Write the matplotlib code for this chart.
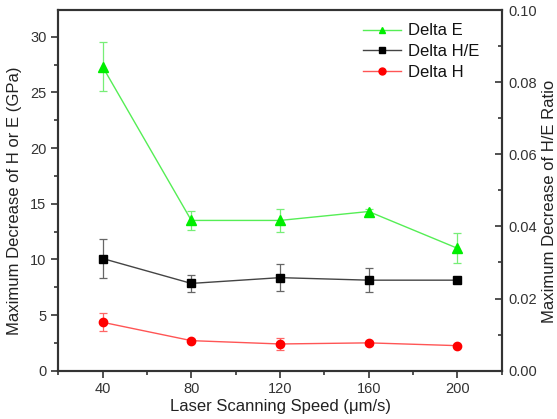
import matplotlib
matplotlib.use("Agg")
import matplotlib.pyplot as plt
from matplotlib.ticker import MultipleLocator

plt.rcParams['font.family'] = ['Liberation Sans', 'DejaVu Sans']

speed = [40, 80, 120, 160, 200]
delta_e = [27.3, 13.5, 13.5, 14.3, 11.0]
delta_e_err = [2.2, 0.85, 1.0, 0.2, 1.35]
delta_he = [0.0311, 0.0242, 0.0258, 0.0251, 0.0251]
delta_he_err = [0.0054, 0.0023, 0.0038, 0.0033, 0.0]
delta_h = [4.35, 2.7, 2.4, 2.5, 2.25]
delta_h_err = [0.8, 0.15, 0.55, 0.15, 0.1]

fig = plt.figure(figsize=(5.57, 4.19), dpi=100)
ax = fig.add_axes([0.1047, 0.1153, 0.796, 0.8607])
ax2 = ax.twinx()

spine_c = '#333333'
lbl_c = '#333333'

le, = ax.plot(speed, delta_e, color='#55ee55', lw=1.0, marker='^', ms=7,
              mfc='#00ee00', mec='#00ee00', label='Delta E', zorder=3)
ax.errorbar(speed, delta_e, yerr=delta_e_err, fmt='none', ecolor='#77ee77',
            elinewidth=0.9, capsize=3, capthick=0.9, zorder=2)
lh, = ax.plot(speed, delta_h, color='#ff5555', lw=1.0, marker='o', ms=6,
              mfc='#ff0000', mec='#ff0000', label='Delta H', zorder=3)
ax.errorbar(speed, delta_h, yerr=delta_h_err, fmt='none', ecolor='#ff6666',
            elinewidth=0.9, capsize=3, capthick=0.9, zorder=2)
lhe, = ax2.plot(speed, delta_he, color='#444444', lw=1.0, marker='s', ms=5.5,
                mfc='#000000', mec='#000000', label='Delta H/E', zorder=3)
ax2.errorbar(speed, delta_he, yerr=delta_he_err, fmt='none', ecolor='#666666',
             elinewidth=0.9, capsize=3, capthick=0.9, zorder=2)

ax.set_xlim(20, 220)
ax.set_ylim(0, 32.4)
ax2.set_ylim(0, 0.1)

ax.xaxis.set_major_locator(MultipleLocator(40))
ax.xaxis.set_minor_locator(MultipleLocator(20))
ax.yaxis.set_major_locator(MultipleLocator(5))
ax.yaxis.set_minor_locator(MultipleLocator(2.5))
ax2.yaxis.set_major_locator(MultipleLocator(0.02))
ax2.yaxis.set_minor_locator(MultipleLocator(0.01))
ax2.yaxis.set_major_formatter(plt.FuncFormatter(lambda v, p: f"{v:.2f}"))

ax.set_xticks([40, 80, 120, 160, 200])
ax.tick_params(axis='both', which='major', direction='out', length=5, width=1.2,
               colors=spine_c, labelcolor=lbl_c, labelsize=10.5)
ax.tick_params(axis='both', which='minor', direction='out', length=3, width=1.2,
               colors=spine_c)
ax.tick_params(axis='y', which='both', right=False)
ax.tick_params(axis='x', which='both', top=False)
ax2.tick_params(axis='y', which='major', direction='in', length=5, width=1.2,
                colors=spine_c, labelcolor=lbl_c, labelsize=10.5, pad=5)
ax2.tick_params(axis='y', which='minor', direction='in', length=3, width=1.2,
                colors=spine_c)

for a in (ax, ax2):
    for s in a.spines.values():
        s.set_color(spine_c)
        s.set_linewidth(1.5)

ax.set_xlabel('Laser Scanning Speed (\u03bcm/s)', fontsize=12, color='#222222', labelpad=2)
ax.set_ylabel('Maximum Decrease of H or E (GPa)', fontsize=12, color='#222222', labelpad=6)
ax2.set_ylabel('Maximum Decrease of H/E Ratio', fontsize=12, color='#222222', labelpad=3)
ax.yaxis.label.set_y(0.47)
ax2.yaxis.label.set_y(0.47)

leg = ax.legend(handles=[le, lhe, lh], loc='upper right', frameon=False,
                fontsize=12, handlelength=2.3, handletextpad=0.4,
                borderaxespad=0.4, labelspacing=0.35,
                bbox_to_anchor=(0.98, 1.0))
for t in leg.get_texts():
    t.set_color('#111111')
for h in leg.legend_handles:
    h.set_markersize(5)

fig.savefig('out.png', dpi=100)
